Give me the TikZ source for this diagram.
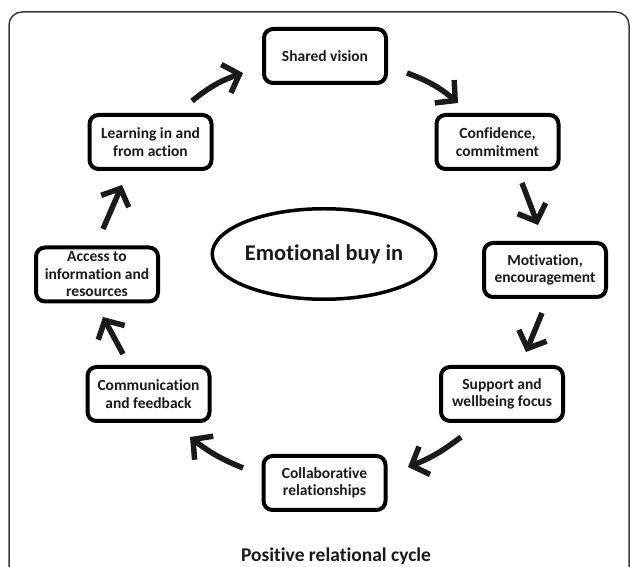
\documentclass[tikz,border=0pt]{standalone}
\usepackage{fontspec}
\setmainfont{Carlito}[Ligatures=NoCommon]
\usetikzlibrary{arrows.meta,shapes.geometric}
\definecolor{ink}{HTML}{1A1A1A}
\begin{document}
\begin{tikzpicture}[x=1pt,y=1pt,
  box/.style={draw=black, line width=4pt, rounded corners=9pt, minimum width=122pt, minimum height=54pt, align=center, font=\fontsize{15.5}{17.5}\selectfont\bfseries, text=ink, inner sep=1pt},
  arr/.style={line width=5.5pt, draw=ink, -{Straight Barb[length=14pt,width=30pt]}},
  frame/.style={draw=ink!85, line width=1.5pt, rounded corners=13pt}
]
\clip (0,0) rectangle (630,567);
\fill[white] (0,0) rectangle (630,567);
\draw[frame] (9,-30) rectangle (629,555);

\node[box] (sv) at (325,511) {Shared vision};
\node[box] (cc) at (497.5,425) {Confidence,\\commitment};
\node[box] (mo) at (545,297) {Motivation,\\encouragement};
\node[box] (su) at (502,173) {Support and\\wellbeing focus};
\node[box] (co) at (324.5,84) {Collaborative\\relationships};
\node[box] (cf) at (148.5,173) {Communication\\and feedback};
\node[box] (ac) at (97,292.5) {Access to\\information and\\resources};
\node[box] (le) at (150.5,425) {Learning in and\\from action};

\node[ellipse, draw=black, line width=3.5pt, minimum width=196.5pt, minimum height=90.5pt, inner sep=0pt, text=ink, font=\fontsize{22.5}{26}\selectfont\bfseries] (eb) at (324,313) {Emotional buy in};

\node[anchor=base, text=ink, font=\fontsize{19.5}{22}\selectfont\bfseries] (ti) at (336,5) {Positive relational cycle};

\draw[arr] ([shift={(41.5,41)}]le.center) to[bend left=10] ([shift={(-82,-17)}]sv.center);
\draw[arr] ([shift={(82,-17)}]sv.center) to[bend left=10] ([shift={(-39.5,39)}]cc.center);
\draw[arr] ([shift={(24.5,-41)}]cc.center) -- ([shift={(-7,45)}]mo.center);
\draw[arr] ([shift={(-3,-43)}]mo.center) -- ([shift={(24,42)}]su.center);
\draw[arr] ([shift={(-41,-43)}]su.center) to[bend left=8] ([shift={(83.5,16)}]co.center);
\draw[arr] ([shift={(-81.5,15)}]co.center) to[bend left=8] ([shift={(41.5,-43)}]cf.center);
\draw[arr] ([shift={(-25.5,40)}]cf.center) -- ([shift={(6,-42.5)}]ac.center);
\draw[arr] ([shift={(6,45.5)}]ac.center) -- ([shift={(-28.5,-43)}]le.center);
\end{tikzpicture}
\end{document}
